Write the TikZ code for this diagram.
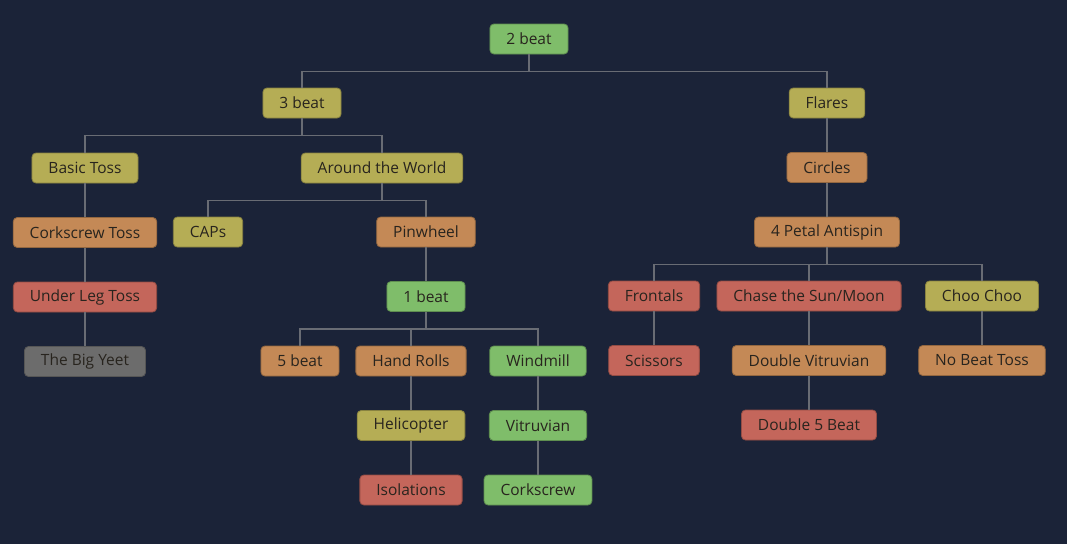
\documentclass[tikz,border=0pt]{standalone}
\usepackage{fontspec}
\setmainfont{Open Sans}
\usetikzlibrary{positioning}

\definecolor{bgnavy}{RGB}{27,35,56}
\definecolor{linegray}{RGB}{105,108,116}
\definecolor{txtdark}{RGB}{40,36,30}
\definecolor{leafgreen}{RGB}{127,189,106}
\definecolor{leafyellow}{RGB}{181,173,85}
\definecolor{leaforange}{RGB}{196,137,86}
\definecolor{leafred}{RGB}{196,102,91}
\definecolor{leafgray}{RGB}{108,108,108}

\tikzset{
    trick/.style={rounded corners=4pt, line width=0.8pt, minimum height=30pt,
        inner xsep=16.5pt, text=txtdark, font=\fontsize{15.5}{18}\selectfont},
    green/.style={trick, fill=leafgreen, draw=leafgreen!75!black},
    yellow/.style={trick, fill=leafyellow, draw=leafyellow!75!black},
    orange/.style={trick, fill=leaforange, draw=leaforange!75!black},
    red/.style={trick, fill=leafred, draw=leafred!75!black},
    gray/.style={trick, fill=leafgray, draw=leafgray!80!black},
    link/.style={draw=linegray, line width=1.3pt},
}

\newcommand{\branch}[2]{\draw[link] (#1.south) -- ++(0,17) -| (#2.north);}

\begin{document}
\begin{tikzpicture}[x=1pt, y=-1pt, node distance=33.7pt]
        \useasboundingbox[fill=bgnavy] (0,0) rectangle (1067,544);
        % top of the tree
        \node[green](twobeat) at (529, 39){2 beat};
        \node[yellow](threebeat) at (302, 103){3 beat};
        \node[yellow](flares) at (827, 103){Flares};
        % 3 beat side
        \node[yellow](basic) at (85, 168){Basic Toss};
        \node[below=of basic, orange](corkscrewtoss){Corkscrew Toss};
        \node[below=of corkscrewtoss, red](underleg){Under Leg Toss};
        \node[below=of underleg, gray](bigyeet){The Big Yeet};
        \node[yellow](world) at (382, 168){Around the World};
        \node[yellow](caps) at (208, 232){CAPs};
        \node[orange](pinwheel) at (426, 232){Pinwheel};
        \node[below=of pinwheel, green](onebeat){1 beat};
        \node[orange](fivebeat) at (300, 361){5 beat};
        \node[orange](handrolls) at (411, 361){Hand Rolls};
        \node[below=of handrolls, yellow](helicopter){Helicopter};
        \node[below=of helicopter, red](isolations){Isolations};
        \node[green](windmill) at (538, 361){Windmill};
        \node[below=of windmill, green](vitruvian){Vitruvian};
        \node[below=of vitruvian, green](corkscrew){Corkscrew};
        % flares side
        \node[below=of flares, orange](circles){Circles};
        \node[below=of circles, orange](antispin){4 Petal Antispin};
        \node[red](frontals) at (654, 296){Frontals};
        \node[below=of frontals, red](scissors){Scissors};
        \node[red](chase) at (809, 296){Chase the Sun/Moon};
        \node[below=of chase, orange](dblvitruvian){Double Vitruvian};
        \node[below=of dblvitruvian, red](dblfive){Double 5 Beat};
        \node[yellow](choochoo) at (982, 296){Choo Choo};
        \node[below=of choochoo, orange](nobeat){No Beat Toss};

        \branch{twobeat}{threebeat}
        \branch{twobeat}{flares}
        \branch{threebeat}{basic}
        \branch{threebeat}{world}
        \branch{basic}{corkscrewtoss}
        \branch{corkscrewtoss}{underleg}
        \branch{underleg}{bigyeet}
        \branch{world}{caps}
        \branch{world}{pinwheel}
        \branch{pinwheel}{onebeat}
        \branch{onebeat}{fivebeat}
        \branch{onebeat}{handrolls}
        \branch{onebeat}{windmill}
        \branch{handrolls}{helicopter}
        \branch{helicopter}{isolations}
        \branch{windmill}{vitruvian}
        \branch{vitruvian}{corkscrew}
        \branch{flares}{circles}
        \branch{circles}{antispin}
        \branch{antispin}{frontals}
        \branch{antispin}{chase}
        \branch{antispin}{choochoo}
        \branch{frontals}{scissors}
        \branch{chase}{dblvitruvian}
        \branch{dblvitruvian}{dblfive}
        \branch{choochoo}{nobeat}
    \end{tikzpicture}
\end{document}
